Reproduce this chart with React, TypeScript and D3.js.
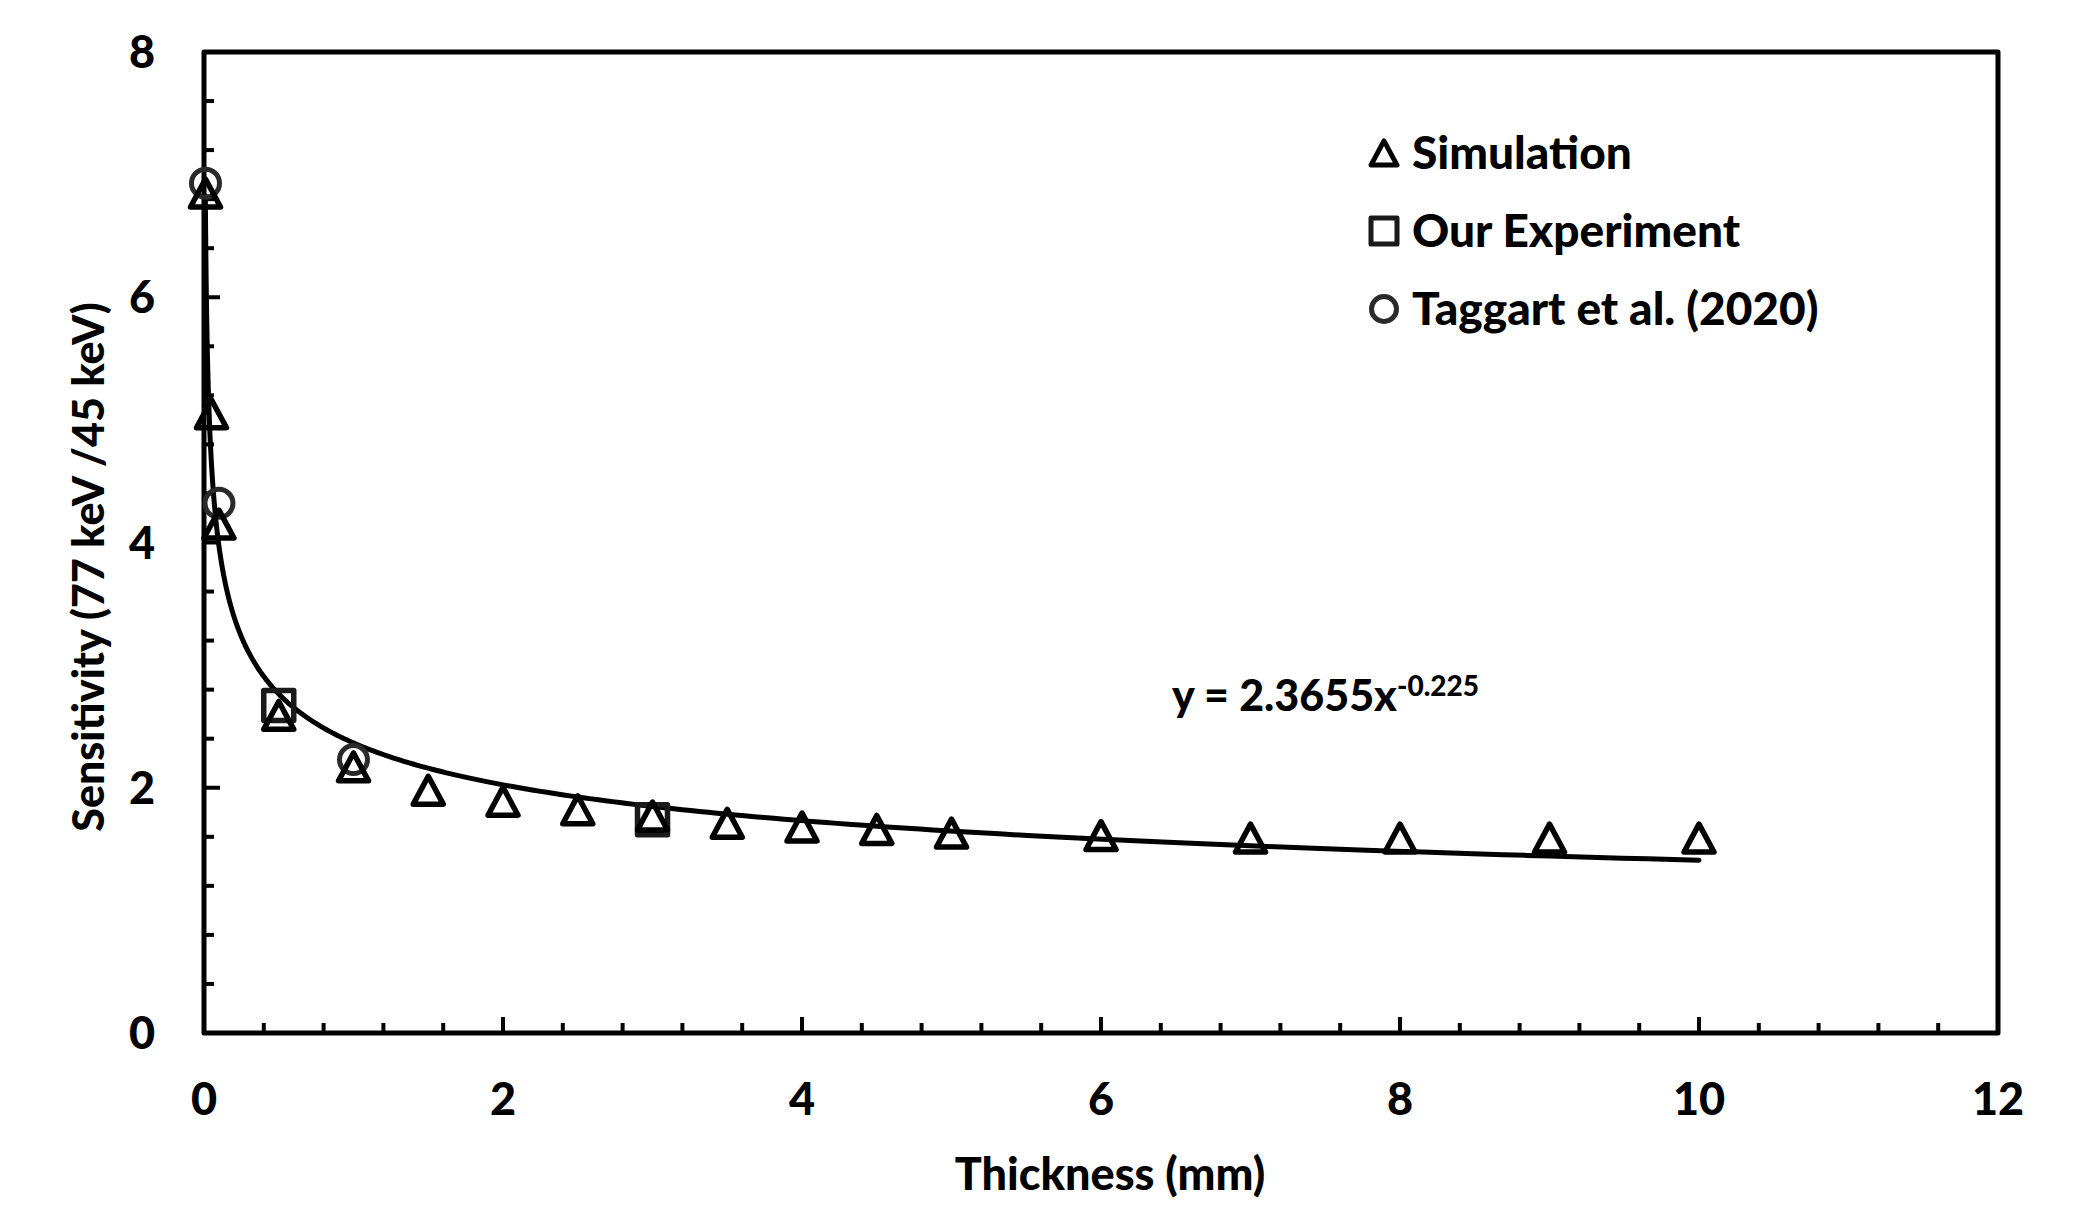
import React from 'react'
import * as d3 from 'd3'

// Simulation (triangles)
const simThickness = [0.01, 0.05, 0.1, 0.5, 1, 1.5, 2, 2.5, 3, 3.5, 4, 4.5, 5, 6, 7, 8, 9, 10]
const simSensitivity = [6.85, 5.05, 4.15, 2.59, 2.17, 1.98, 1.89, 1.82, 1.77, 1.71, 1.68, 1.66, 1.63, 1.61, 1.59, 1.59, 1.59, 1.59]

// Our experiment (squares)
const expThickness = [0.5, 3]
const expSensitivity = [2.67, 1.74]

// Taggart et al. (2020) (circles)
const tagThickness = [0.01, 0.1, 1]
const tagSensitivity = [6.93, 4.32, 2.23]

// power-law trendline as printed on the chart
const fitA = 2.3655
const fitB = -0.225
const fitRange = [0.009, 10]

const xTickLabels = [0, 2, 4, 6, 8, 10, 12]
const yTickLabels = [0, 2, 4, 6, 8]

const legendLabels = ['Simulation', 'Our Experiment', 'Taggart et al. (2020)']

const W = 2085
const H = 1223
const FONT = "Lato, 'Open Sans', sans-serif"
const WEIGHT = 900

const trianglePath = (s: number) => {
  const hw = s / 2
  const hh = (s * 0.93) / 2
  return `M0,${-hh} L${hw},${hh} L${-hw},${hh} Z`
}

export default function App() {
  const x = d3.scaleLinear().domain([0, 12]).range([204, 1998])
  const y = d3.scaleLinear().domain([0, 8]).range([1033, 52])

  const line = d3
    .line<number>()
    .x((d) => x(d))
    .y((d) => y(fitA * Math.pow(d, fitB)))

  // sample densely in log space so the steep start stays smooth
  const fitX = d3.range(0, 401).map((i) => {
    const t = i / 400
    return Math.exp(Math.log(fitRange[0]) + t * (Math.log(fitRange[1]) - Math.log(fitRange[0])))
  })

  const xMinor = d3.range(1, 30).map((i) => ({ v: i * 0.4, major: i % 5 === 0 }))
  const yMinor = d3.range(1, 20).map((i) => ({ v: i * 0.4, major: i % 5 === 0 }))

  const legendY = [153, 231, 309]

  return (
    <svg
      width={W}
      height={H}
      style={{ position: 'absolute', left: 0, top: 0, background: '#fff' }}
      fontFamily={FONT}
      fontWeight={WEIGHT}
    >
      <rect width={W} height={H} fill="#fff" />

      {/* ticks */}
      {xMinor.map((t, i) => (
        <line
          key={'xt' + i}
          x1={x(t.v)}
          x2={x(t.v)}
          y1={y(0)}
          y2={y(0) - (t.major ? 16 : 10)}
          stroke="#000"
          strokeWidth={4}
        />
      ))}
      {yMinor.map((t, i) => (
        <line
          key={'yt' + i}
          x1={x(0)}
          x2={x(0) + (t.major ? 16 : 10)}
          y1={y(t.v)}
          y2={y(t.v)}
          stroke="#000"
          strokeWidth={4}
        />
      ))}

      {/* frame */}
      <rect
        x={x(0)}
        y={y(8)}
        width={x(12) - x(0)}
        height={y(0) - y(8)}
        fill="none"
        stroke="#000"
        strokeWidth={5}
        strokeLinejoin="round"
      />

      {/* tick labels */}
      {xTickLabels.map((v) => (
        <text key={'xl' + v} x={x(v)} y={1115} textAnchor="middle" fontSize={45} fill="#000">
          {v}
        </text>
      ))}
      {yTickLabels.map((v) => (
        <text key={'yl' + v} x={155} y={y(v) + 16} textAnchor="end" fontSize={45} fill="#000">
          {v}
        </text>
      ))}

      {/* axis titles */}
      <text x={1110} y={1190} textAnchor="middle" fontSize={45} fill="#000">
        Thickness (mm)
      </text>
      <text transform="translate(104,567) rotate(-90)" textAnchor="middle" fontSize={43} fill="#000">
        Sensitivity (77 keV /45 keV)
      </text>

      {/* fitted curve */}
      <path d={line(fitX) || ''} fill="none" stroke="#000" strokeWidth={5} strokeLinecap="round" />

      {/* markers */}
      {tagThickness.map((d, i) => (
        <circle
          key={'c' + i}
          cx={x(d)}
          cy={y(tagSensitivity[i])}
          r={14}
          fill="none"
          stroke="#2a2a2a"
          strokeWidth={5}
        />
      ))}
      {expThickness.map((d, i) => (
        <rect
          key={'s' + i}
          x={x(d) - 15}
          y={y(expSensitivity[i]) - 15}
          width={30}
          height={30}
          fill="none"
          stroke="#1a1a1a"
          strokeWidth={5.5}
          strokeLinejoin="round"
        />
      ))}
      {simThickness.map((d, i) => (
        <path
          key={'t' + i}
          d={trianglePath(30)}
          transform={`translate(${x(d)},${y(simSensitivity[i])})`}
          fill="none"
          stroke="#000"
          strokeWidth={5.5}
          strokeLinejoin="round"
        />
      ))}

      {/* equation */}
      <text x={1172} y={711} fontSize={43} fill="#000">
        <tspan>y = 2.3655x</tspan>
        <tspan dy={-15} fontSize={28}>
          -0.225
        </tspan>
      </text>

      {/* legend */}
      <path d={trianglePath(26)} transform={`translate(1384,${legendY[0]})`} fill="none" stroke="#000" strokeWidth={5} strokeLinejoin="round" />
      <rect x={1384 - 13} y={legendY[1] - 13} width={26} height={26} fill="none" stroke="#1a1a1a" strokeWidth={5} strokeLinejoin="round" />
      <circle cx={1384} cy={legendY[2]} r={12.5} fill="none" stroke="#2a2a2a" strokeWidth={5} />
      {legendLabels.map((l, i) => (
        <text key={l} x={1412} y={legendY[i] + 16} fontSize={46} fill="#000">
          {l}
        </text>
      ))}
    </svg>
  )
}
